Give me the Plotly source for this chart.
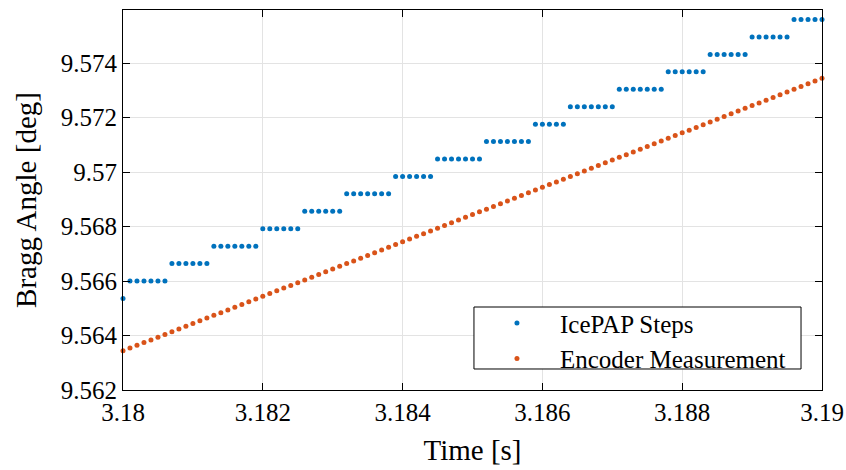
import plotly.graph_objects as go

# ---- data ----
time_s = [
    3.1800, 3.1801, 3.1802, 3.1803, 3.1804, 3.1805, 3.1806, 3.1807, 3.1808, 3.1809,
    3.1810, 3.1811, 3.1812, 3.1813, 3.1814, 3.1815, 3.1816, 3.1817, 3.1818, 3.1819,
    3.1820, 3.1821, 3.1822, 3.1823, 3.1824, 3.1825, 3.1826, 3.1827, 3.1828, 3.1829,
    3.1830, 3.1831, 3.1832, 3.1833, 3.1834, 3.1835, 3.1836, 3.1837, 3.1838, 3.1839,
    3.1840, 3.1841, 3.1842, 3.1843, 3.1844, 3.1845, 3.1846, 3.1847, 3.1848, 3.1849,
    3.1850, 3.1851, 3.1852, 3.1853, 3.1854, 3.1855, 3.1856, 3.1857, 3.1858, 3.1859,
    3.1860, 3.1861, 3.1862, 3.1863, 3.1864, 3.1865, 3.1866, 3.1867, 3.1868, 3.1869,
    3.1870, 3.1871, 3.1872, 3.1873, 3.1874, 3.1875, 3.1876, 3.1877, 3.1878, 3.1879,
    3.1880, 3.1881, 3.1882, 3.1883, 3.1884, 3.1885, 3.1886, 3.1887, 3.1888, 3.1889,
    3.1890, 3.1891, 3.1892, 3.1893, 3.1894, 3.1895, 3.1896, 3.1897, 3.1898, 3.1899,
    3.1900,
]

# IcePAP step levels and how many samples sit on each level
step_levels = [
    9.56536, 9.56600, 9.56664, 9.56728, 9.56792, 9.56856, 9.56920, 9.56984, 9.57048,
    9.57112, 9.57176, 9.57240, 9.57304, 9.57368, 9.57432, 9.57496, 9.57560,
]
step_counts = [1, 6, 6, 7, 6, 6, 7, 6, 7, 7, 5, 7, 7, 6, 6, 6, 5]

encoder_deg = [
    9.56344, 9.56354, 9.56364, 9.56374, 9.56384, 9.56394, 9.56404, 9.56414, 9.56424, 9.56434,
    9.56444, 9.56454, 9.56464, 9.56474, 9.56484, 9.56494, 9.56504, 9.56514, 9.56524, 9.56534,
    9.56544, 9.56554, 9.56564, 9.56574, 9.56584, 9.56594, 9.56604, 9.56614, 9.56624, 9.56634,
    9.56644, 9.56654, 9.56664, 9.56674, 9.56684, 9.56694, 9.56704, 9.56714, 9.56724, 9.56734,
    9.56744, 9.56754, 9.56764, 9.56774, 9.56784, 9.56794, 9.56804, 9.56814, 9.56824, 9.56834,
    9.56844, 9.56854, 9.56864, 9.56874, 9.56884, 9.56894, 9.56904, 9.56914, 9.56924, 9.56934,
    9.56944, 9.56954, 9.56964, 9.56974, 9.56984, 9.56994, 9.57004, 9.57014, 9.57024, 9.57034,
    9.57044, 9.57054, 9.57064, 9.57074, 9.57084, 9.57094, 9.57104, 9.57114, 9.57124, 9.57134,
    9.57144, 9.57154, 9.57164, 9.57174, 9.57184, 9.57194, 9.57204, 9.57214, 9.57224, 9.57234,
    9.57244, 9.57254, 9.57264, 9.57274, 9.57284, 9.57294, 9.57304, 9.57314, 9.57324, 9.57334,
    9.57344,
]

x_tickvals = [3.18, 3.182, 3.184, 3.186, 3.188, 3.19]
x_ticktext = ["3.18", "3.182", "3.184", "3.186", "3.188", "3.19"]
y_tickvals = [9.562, 9.564, 9.566, 9.568, 9.57, 9.572, 9.574]
y_ticktext = ["9.562", "9.564", "9.566", "9.568", "9.57", "9.572", "9.574"]

icepap_deg = []
for lvl, n in zip(step_levels, step_counts):
    icepap_deg.extend([lvl] * n)

FONT = "Liberation Serif"

fig = go.Figure()
fig.add_trace(go.Scatter(
    x=time_s, y=icepap_deg, mode="markers", name="IcePAP Steps",
    marker=dict(color="#0072BD", size=5), cliponaxis=False,
))
fig.add_trace(go.Scatter(
    x=time_s, y=encoder_deg, mode="markers", name="Encoder Measurement",
    marker=dict(color="#D95319", size=5), cliponaxis=False,
))

axis_common = dict(
    showline=True, linecolor="black", linewidth=1, mirror="ticks",
    ticks="inside", ticklen=7, tickcolor="black", tickwidth=1,
    showgrid=True, gridcolor="#e3e3e3", gridwidth=1, zeroline=False,
    automargin=False,
    tickfont=dict(family=FONT, size=25, color="black"),
)

fig.update_xaxes(
    range=[3.18, 3.19], tickvals=x_tickvals, ticktext=x_ticktext,
    title=dict(text="Time [s]", font=dict(family=FONT, size=29, color="black"), standoff=14),
    **axis_common,
)
fig.update_yaxes(
    range=[9.562, 9.57595], tickvals=y_tickvals, ticktext=y_ticktext,
    title=dict(text="Bragg Angle [deg]", font=dict(family=FONT, size=29, color="black"), standoff=15),
    **axis_common,
)

# legend frame (opaque white box with black border)
fig.add_shape(
    type="rect", xref="paper", yref="paper",
    x0=0.5021, x1=0.970, y0=0.0553, y1=0.2184,
    line=dict(color="black", width=1), fillcolor="white", layer="above",
)

fig.update_layout(
    width=846, height=470,
    margin=dict(l=123, r=24, t=10, b=80),
    paper_bgcolor="white", plot_bgcolor="white",
    showlegend=True,
    legend=dict(
        x=0.5021, y=0.236, xanchor="left", yanchor="top",
        bgcolor="rgba(0,0,0,0)", borderwidth=0,
        itemwidth=76,
        font=dict(family=FONT, size=25, color="black"),
    ),
)

fig.write_html("out.html")
